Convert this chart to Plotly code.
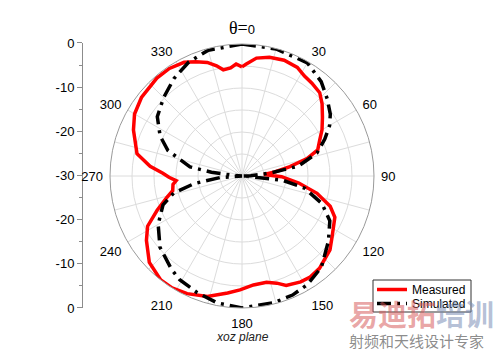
import plotly.graph_objects as go

# Measured pattern (deg, dB)
meas_theta = [0, 2, 7, 13, 20, 27, 32, 37, 43, 48, 54, 60, 65, 71, 75, 79, 83, 86,
              91, 97, 103, 109, 114, 124, 130, 140, 146, 151, 158, 162, 167, 174,
              181, 187, 196, 205, 212, 218, 227, 236, 242, 248, 254, 258, 263, 266,
              269, 272, 276, 282, 293, 300, 308, 319, 326, 333, 338, 343, 347, 350,
              354, 357, 360]
meas_db = [-5.2, -4.6, -3.0, -2.3, -2.0, -2.3, -3.2, -3.6, -4.1, -5.5, -7.4, -9.0,
           -10.5, -11.8, -14.7, -18.9, -22.5, -25.0,
           -21.0, -17.0, -12.5, -8.8, -6.9, -5.3, -3.9, -2.6, -2.3, -2.5, -3.2, -4.4,
           -5.2, -5.1,
           -4.1, -3.2, -1.5, -0.5, 0.0, 0.0, -1.2, -3.8, -5.7, -9.2, -12.2, -13.9,
           -14.2, -15.0,
           -13.4, -12.0, -9.0, -5.6, -3.2, -1.8, -1.0, -0.5, -0.5, -1.0, -2.0, -3.0,
           -4.3, -5.5,
           -5.3, -4.5, -5.2]

# Simulated pattern (deg, dB)
sim_theta = [0, 15, 30, 40, 48, 55, 60, 66, 73, 80, 84, 88, 90, 92, 96, 101, 109,
             117, 127, 139, 149, 157, 166, 180, 191, 201, 211, 217, 229, 240, 250,
             256, 261, 266, 270, 274, 277, 280, 289, 296, 305, 315, 325, 335, 345, 360]
sim_db = [0.0, -0.1, -0.3, -2.0, -3.9, -5.5, -7.0, -9.4, -12.2, -17.0, -23.6, -28.0,
          -30.0, -29.0, -20.7, -15.5, -10.8, -7.6, -5.4, -2.5, -1.2, -0.6, -0.3, 0.0,
          -0.6, -1.6, -2.5, -3.4, -5.3, -8.0, -10.9, -14.0, -19.0, -25.0, -30.0,
          -28.0, -23.0, -18.0, -12.2, -9.3, -6.5, -4.8, -3.0, -1.4, -0.4, 0.0]

series_names = ["Measured", "Simulated"]
series_colors = ["#ff0000", "#000000"]
SIM_DASH = "14px,6px,3px,6px"

ang_ticks = list(range(0, 360, 15))
ang_text = []
for a in ang_ticks:
    if a == 0:
        ang_text.append("<span style='font-family:Liberation Serif;font-size:18px'>θ=</span>0")
    elif a % 30 == 0:
        ang_text.append(str(a))
    else:
        ang_text.append("")

left_vals = [-30, -20, -10, 0, 10, 20, 30]
left_text = ["0", "-10", "-20", "-30", "-20", "-10", "0"]

W, H = 500, 351


def px(x):
    return x / W


def py(y):
    return (H - y) / H


fig = go.Figure()
fig.add_trace(go.Scatterpolar(r=meas_db, theta=meas_theta, mode="lines",
                              name=series_names[0],
                              line=dict(color=series_colors[0], width=3.5)))
fig.add_trace(go.Scatterpolar(r=sim_db, theta=sim_theta, mode="lines",
                              name=series_names[1],
                              line=dict(color=series_colors[1], width=3.5, dash=SIM_DASH)))
fig.add_trace(go.Scatter(x=[0], y=[0], mode="markers", marker=dict(opacity=0),
                         showlegend=False, hoverinfo="skip"))

fig.update_layout(
    width=W, height=H,
    margin=dict(l=0, r=0, t=0, b=0, pad=0, autoexpand=False),
    paper_bgcolor="white", plot_bgcolor="rgba(0,0,0,0)",
    font=dict(family="Arial, Liberation Sans", size=13, color="#000"),
    showlegend=False,
    polar=dict(
        domain=dict(x=[0.22, 0.748], y=[0.1225, 0.8746]),
        bgcolor="white",
        radialaxis=dict(range=[-30, 0], dtick=5, showticklabels=False, ticks="",
                        showline=False, gridcolor="#dcdcdc", gridwidth=1),
        angularaxis=dict(direction="clockwise", rotation=90, tickmode="array",
                         tickvals=ang_ticks, ticktext=ang_text,
                         ticks="outside", ticklen=4, tickcolor="rgba(0,0,0,0)",
                         showline=True, linecolor="#9a9a9a", linewidth=1,
                         gridcolor="#dcdcdc", gridwidth=1,
                         tickfont=dict(size=13, color="#000")),
    ),
    xaxis=dict(domain=[0.0, 0.01], visible=False, range=[-1, 1]),
    yaxis=dict(domain=[0.1225, 0.8775], range=[-30, 30], anchor="free", position=0.164,
               tickmode="array", tickvals=left_vals, ticktext=left_text,
               showline=True, linecolor="#8c8c8c", linewidth=1,
               ticks="outside", ticklen=5, tickcolor="#8c8c8c",
               minor=dict(dtick=5, ticks="outside", ticklen=3, tickcolor="#8c8c8c"),
               showgrid=False, zeroline=False, tickfont=dict(size=13, color="#000")),
)

# manual legend (box, line samples, labels)
fig.add_shape(type="rect", xref="paper", yref="paper",
              x0=px(373), x1=px(471), y0=py(312), y1=py(280),
              line=dict(color="#333", width=1), fillcolor="white", layer="above")
for i, (nm, col) in enumerate(zip(series_names, series_colors)):
    yy = 289.5 + 14 * i
    fig.add_shape(type="line", xref="paper", yref="paper",
                  x0=px(377), x1=px(407), y0=py(yy), y1=py(yy), layer="above",
                  line=dict(color=col, width=3.5, dash=None if i == 0 else SIM_DASH))
    fig.add_annotation(x=px(410), y=py(yy), xref="paper", yref="paper",
                       xanchor="left", yanchor="middle", showarrow=False,
                       text=nm, font=dict(size=12, color="#000"))

fig.add_annotation(x=px(242), y=py(337), xref="paper", yref="paper",
                   xanchor="center", yanchor="middle",
                   text="<i>xoz plane</i>", showarrow=False,
                   font=dict(size=12, color="#222"))
# watermark
fig.add_annotation(x=px(347), y=py(313), xref="paper", yref="paper",
                   xanchor="left", yanchor="middle", showarrow=False,
                   text="<b><span style='color:rgba(214,90,90,0.55)'>易迪拓</span>"
                        "<span style='color:rgba(120,140,180,0.55)'>培训</span></b>",
                   font=dict(family="Noto Sans CJK SC", size=29))
fig.add_annotation(x=px(347), y=py(340), xref="paper", yref="paper",
                   xanchor="left", yanchor="middle", showarrow=False,
                   text="射频和天线设计专家",
                   font=dict(family="Noto Sans CJK SC", size=15, color="rgba(110,110,110,0.8)"))

fig.write_html("out.html")
